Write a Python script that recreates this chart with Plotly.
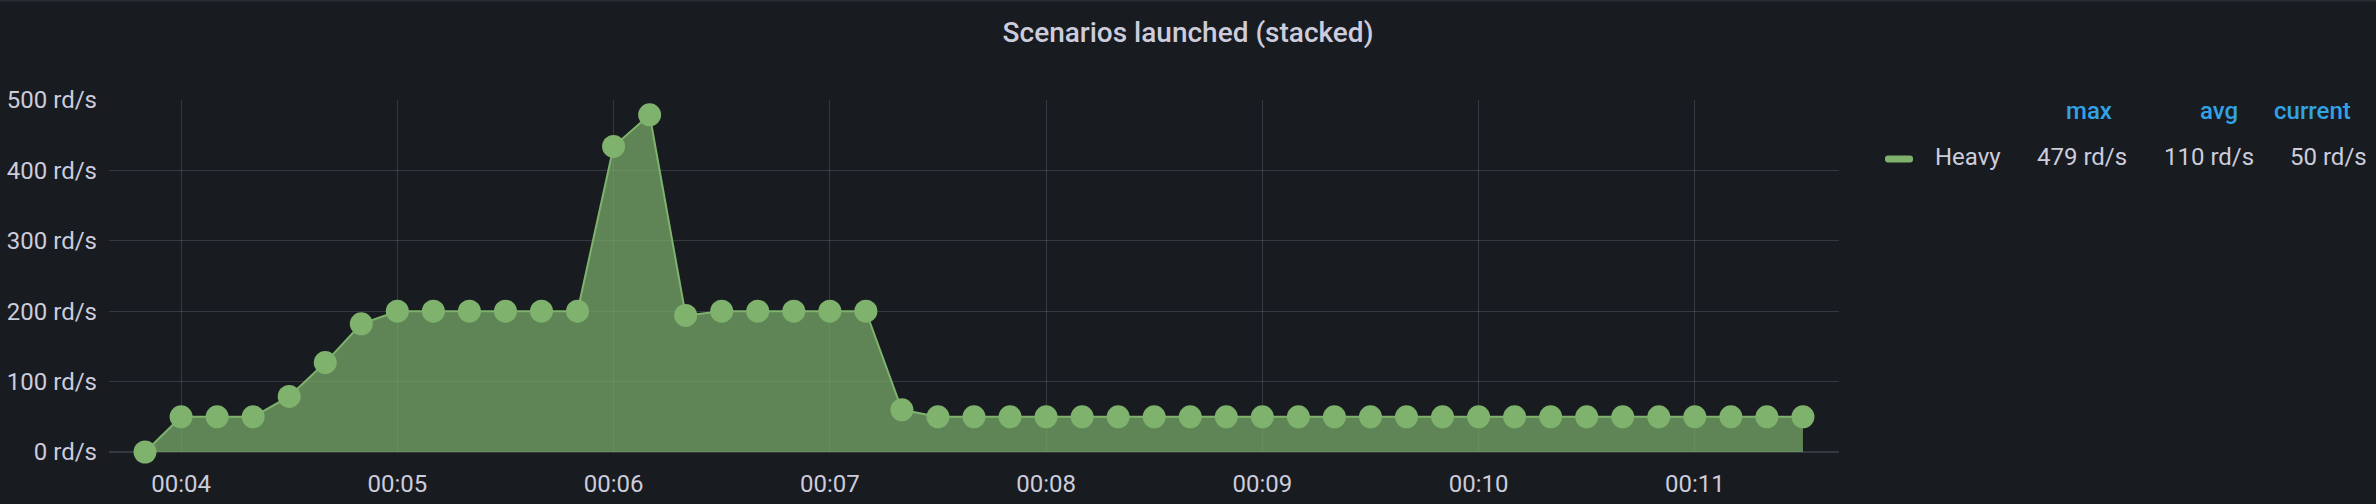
import pandas as pd
import plotly.graph_objects as go

# ---- data ----
series_name = "Heavy"
start_time = "2021-01-01 00:03:50"
step = "10s"
values = [0, 50, 50, 50, 79, 127, 182,
          200, 200, 200, 200, 200, 200,
          434, 479, 194,
          200, 200, 200, 200, 200,
          60,
          50, 50, 50, 50, 50, 50, 50, 50, 50, 50, 50, 50, 50,
          50, 50, 50, 50, 50, 50, 50, 50, 50, 50, 50, 50]
legend_headers = ["max", "avg", "current"]
unit = " rd/s"
x_range = ["2021-01-01 00:03:40", "2021-01-01 00:11:40"]
y_range = [0, 500]

times = pd.date_range(start_time, periods=len(values), freq=step)
stats = [max(values), sum(values) / len(values), values[-1]]

# ---- styling ----
W, H = 2376, 504
L, R, T, B = 109, 1839, 100, 452
BG = "#181b1f"
TXT = "#ccccdc"
BLUE = "#33a2e5"
GREEN = "#7eb26d"
GRID = "rgba(204,204,220,0.17)"
FONT = "Roboto"


def px(x):
    return (x - L) / (R - L)


def py(y):
    return (B - y) / (B - T)


fig = go.Figure()
fig.add_trace(go.Scatter(
    x=times, y=values, name=series_name,
    mode="lines+markers",
    fill="tozeroy", fillcolor="rgba(126,178,109,0.7)",
    line=dict(color=GREEN, width=2),
    marker=dict(size=23, color=GREEN),
    cliponaxis=False,
))

annotations = []
header_right = [2114, 2240, 2353]
value_right = [2129, 2256, 2369]
for h, xr in zip(legend_headers, header_right):
    annotations.append(dict(
        text=h, x=px(xr), y=py(111), xref="paper", yref="paper",
        xanchor="right", yanchor="middle", showarrow=False,
        font=dict(family=FONT, size=24, color=BLUE, weight=500)))
for v, xr in zip(stats, value_right):
    annotations.append(dict(
        text=f"{v:.0f}{unit}", x=px(xr), y=py(157), xref="paper", yref="paper",
        xanchor="right", yanchor="middle", showarrow=False,
        font=dict(family=FONT, size=24, color=TXT)))
annotations.append(dict(
    text=series_name, x=px(1933), y=py(157), xref="paper", yref="paper",
    xanchor="left", yanchor="middle", showarrow=False,
    font=dict(family=FONT, size=24, color=TXT)))

# legend swatch (rounded bar)
x0, x1, y0, y1, r = px(1885), px(1913), py(162.5), py(155.5), 3
rx = r / (R - L)
ry = r / (B - T)
swatch_path = (f"M {x0+rx},{y0} L {x1-rx},{y0} Q {x1},{y0} {x1},{y0+ry} "
               f"L {x1},{y1-ry} Q {x1},{y1} {x1-rx},{y1} L {x0+rx},{y1} "
               f"Q {x0},{y1} {x0},{y1-ry} L {x0},{y0+ry} Q {x0},{y0} {x0+rx},{y0} Z")
shapes = [
    dict(type="path", path=swatch_path, xref="paper", yref="paper",
         fillcolor=GREEN, line=dict(width=0)),
    dict(type="line", xref="paper", yref="paper", x0=px(0), x1=px(W),
         y0=py(0.5), y1=py(0.5), line=dict(color="#2a2d33", width=2)),
]

fig.update_layout(
    width=W, height=H,
    paper_bgcolor=BG, plot_bgcolor=BG,
    margin=dict(l=L, r=W - R, t=T, b=H - B),
    showlegend=False,
    font=dict(family=FONT, color=TXT, size=24),
    title=dict(text="Scenarios launched (stacked)", x=0.5, xref="container",
               xanchor="center", y=1 - 32 / H, yref="container", yanchor="middle",
               font=dict(family=FONT, size=28, color=TXT, weight=500)),
    xaxis=dict(type="date", range=x_range, dtick=60000,
               tick0="2021-01-01 00:00:00", tickformat="%H:%M",
               showgrid=True, gridcolor=GRID, gridwidth=1, zeroline=False,
               showline=False, ticks="", ticklabelstandoff=15, automargin=False,
               tickfont=dict(size=24, color=TXT)),
    yaxis=dict(range=y_range, dtick=100, ticksuffix=unit,
               showgrid=True, gridcolor=GRID, gridwidth=1, zeroline=True,
               zerolinecolor=GRID, zerolinewidth=2, showline=False, ticks="",
               ticklabelstandoff=11, automargin=False,
               tickfont=dict(size=24, color=TXT)),
    annotations=annotations,
    shapes=shapes,
)

fig.write_html(
    "out.html",
    config={"displayModeBar": False},
    post_script="document.body.style.margin='0';document.body.style.background='%s';" % BG,
)
